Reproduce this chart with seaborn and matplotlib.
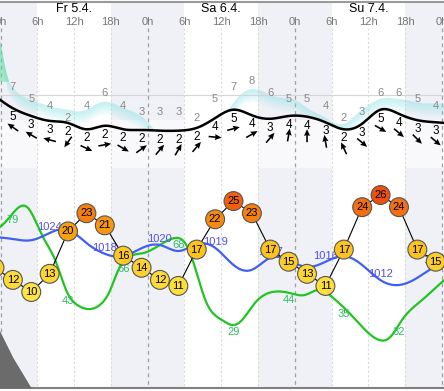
import numpy as np
import matplotlib
matplotlib.use("Agg")
import matplotlib.pyplot as plt
import seaborn as sns
from matplotlib.colors import LinearSegmentedColormap, Normalize

sns.set_theme(style="white")
plt.rcParams['font.family'] = ['Liberation Sans', 'DejaVu Sans']

W, H = 444, 391

# ---- data (hours since Fr 5.4. 0h) ----
day_labels = ["Fr 5.4.", "Sa 6.4.", "Su 7.4."]
day_centers = [12, 36, 60]
tick_hours = list(range(0, 73, 6))
tick_labels = ["0h", "6h", "12h", "18h"] * 3 + ["0h"]
night_starts = [-6, 18, 42, 66]

steps = list(range(-1, 72, 3))
temp = [14, 12, 10, 13, 20, 23, 21, 16, 14, 12, 11, 17, 22, 25, 23, 17, 15, 13, 11, 17, 24, 26, 24, 17, 15]

label_steps = steps[1:]
wind_bft = [5, 3, 3, 2, 2, 2, 2, 2, 2, 2, 2, 4, 5, 4, 3, 4, 4, 3, 2, 3, 5, 4, 3, 3]
gusts = [7, 5, 4, 2, 4, 6, 4, 3, 3, 3, 2, 5, 7, 8, 6, 5, 5, 4, 2, 3, 6, 6, 5, 4]
wind_from = [125, 120, 105, 35, 295, 260, 300, 235, 220, 210, 220, 275,
             255, 240, 220, 190, 180, 170, 155, 310, 300, 310, 315, 310]

curve_hours = list(range(-1, 75, 3))
wind_curve = [6.9, 5.1, 4.0, 3.3, 3.0, 2.1, 2.6, 2.1, 2.0, 1.9, 1.9, 2.3, 3.7,
              4.9, 4.1, 3.6, 4.0, 3.9, 3.1, 2.1, 2.9, 4.9, 4.3, 3.4, 3.1, 2.9]
pressure = [1023.0, 1022.5, 1022.2, 1024.0, 1024.8, 1021.5, 1018.8, 1018.2, 1020.2,
            1021.0, 1019.5, 1021.2, 1020.3, 1016.0, 1014.8, 1017.8, 1017.2, 1015.5,
            1016.8, 1018.2, 1016.0, 1012.2, 1011.0, 1012.8, 1015.8, 1017.8]

pres_label_hours = [-1, 8, 17, 26, 35, 44, 53, 62, 71]
pres_labels = [1022, 1024, 1018, 1020, 1019, 1017, 1016, 1012, 1015]

hum_hours = [-1.1, 1.1, 4.3, 6.9, 8.9, 10.9, 12.5, 14.3, 16.2, 17.9, 19.0, 20.0, 23.3,
             26.0, 28.5, 30.1, 31.7, 33.4, 36.1, 38.1, 39.4, 41.5, 44.3, 47.1, 49.7,
             52.0, 54.1, 56.9, 59.5, 61.8, 63.4, 65.5, 68.8, 72.4, 74.1]
humidity = [71.6, 77.1, 83.0, 69.3, 58.7, 43.6, 38.1, 36.2, 38.1, 45.0, 52.8, 57.8, 61.9,
            65.6, 68.8, 66.5, 55.5, 40.4, 31.2, 28.9, 31.2, 39.0, 44.0, 43.6, 42.7,
            45.0, 41.7, 34.4, 26.6, 22.0, 22.9, 31.2, 40.4, 49.5, 53.2]
hum_label_hours = [2, 11, 20, 29, 38, 47, 56, 65]
hum_labels = [79, 43, 66, 68, 29, 44, 35, 32]

gust_area_hours = [-1, 0, 1, 2, 3, 5, 8, 11, 14, 16, 17.5, 20, 23, 26, 32, 35, 37, 39, 41,
                   43, 45, 48, 50, 53, 56, 58, 60, 62, 64, 66, 69, 72, 74]
gust_area = [18, 13.9, 9.0, 6.9, 5.9, 4.9, 3.9, 3.3, 3.3, 4.4, 4.6, 3.6, 2.2, -0.8, -0.8,
             1.5, 3.2, 5.6, 6.7, 6.2, 5.4, 4.9, 3.6, 2.0, 1.0, 2.5, 4.0, 5.1, 5.2, 4.9,
             4.4, 4.3, 4.1]
gust_ref = 5.74

cloud_hours = [-1, 2, 5]
cloud = [31, 14, 0]


def smooth(xs, ys, xx):
    # natural cubic spline, only to draw the curves smoothly
    xs = np.asarray(xs, float)
    ys = np.asarray(ys, float)
    h = np.diff(xs)
    m = len(xs)
    A = np.zeros((m, m))
    b = np.zeros(m)
    A[0, 0] = A[-1, -1] = 1
    for i in range(1, m - 1):
        A[i, i - 1] = h[i - 1]
        A[i, i] = 2 * (h[i - 1] + h[i])
        A[i, i + 1] = h[i]
        b[i] = 3 * ((ys[i + 1] - ys[i]) / h[i] - (ys[i] - ys[i - 1]) / h[i - 1])
    c = np.linalg.solve(A, b)
    bb = (ys[1:] - ys[:-1]) / h - h * (2 * c[:-1] + c[1:]) / 3
    d = (c[1:] - c[:-1]) / (3 * h)
    idx = np.clip(np.searchsorted(xs, xx) - 1, 0, m - 2)
    t = xx - xs[idx]
    return ys[idx] + bb[idx] * t + c[idx] * t ** 2 + d[idx] * t ** 3


def rect(top, bottom):
    return [0, 1 - bottom / H, 1, (bottom - top) / H]


XLIM = (-0.1, 72.35)
xx = np.linspace(-1, 74, 900)
fig = plt.figure(figsize=(W / 100, H / 100), dpi=100)

# ---- background: night bands, grid, header ----
bg = fig.add_axes(rect(1.5, 388))
bg.set_xlim(XLIM)
bg.set_ylim(388, 1.5)
bg.set_facecolor('white')
for s in night_starts:
    bg.fill_between([s, s + 12], 1.5, 120, color='#f0f0f7', lw=0)
    bg.fill_between([s, s + 12], 120, 168, color='#f9f9fc', lw=0)
    bg.fill_between([s, s + 12], 168, 388, color='#f0f0f7', lw=0)
for hh, lab in zip(tick_hours, tick_labels):
    if hh % 24 == 0:
        bg.plot([hh, hh], [28, 388], color='#a0a0a0', ls=(0, (3, 3)), lw=0.9)
    else:
        bg.plot([hh, hh], [28, 388], color='#dadada', ls=(0, (2, 2)), lw=0.8)
    bg.text(hh, 22, lab, ha='center', va='center', fontsize=8, color='#777777')
for c, lab in zip(day_centers, day_labels):
    bg.text(c, 9, lab, ha='center', va='center', fontsize=9, color='black')
bg.set_xticks([])
bg.set_yticks([])
for sp in ['left', 'right']:
    bg.spines[sp].set_visible(False)
bg.spines['top'].set_color('#999999')
bg.spines['top'].set_linewidth(1.5)
bg.spines['bottom'].set_color('#808080')
bg.spines['bottom'].set_linewidth(1.5)

# ---- top panel: gusts and wind ----
ax_top = fig.add_axes(rect(3, 168))
ax_top.set_xlim(XLIM)
ax_top.set_ylim(-6.23, 20.82)
ax_top.axis('off')
wy = smooth(curve_hours, wind_curve, xx)
wind_in_gust_units = (7 * wy - 14) / 6.1   # same pixel height on the gust scale
gy = smooth(gust_area_hours, gust_area, xx)
above = gy > wind_in_gust_units
for k in range(1, 7):
    low = np.maximum(gy - k * 0.35, wind_in_gust_units)
    ax_top.fill_between(xx, low, gy, where=above, color='#86e4e6', alpha=0.09, lw=0)
ax_top.fill_between(xx, 8, gy, where=gy > 8, color='#45dc8c', alpha=0.45, lw=0)
ax_top.axhline(gust_ref, color='#d5d5d5', lw=0.8)
for hh, g in zip(label_steps, gusts):
    ax_top.text(hh, g, str(g), ha='center', va='center', fontsize=8, color='#888888')

ax_wind = fig.add_axes(rect(3, 168))
ax_wind.set_xlim(XLIM)
ax_wind.set_ylim(-3.43, 20.14)
ax_wind.axis('off')
sns.lineplot(x=xx, y=wy, ax=ax_wind, color='black', lw=1.8, sort=False, estimator=None)
wy_at = np.interp(label_steps, xx, wy)
for hh, v, b in zip(label_steps, wy_at, wind_bft):
    ax_wind.annotate(str(b), (hh, v), xytext=(0, -9), textcoords='offset pixels',
                     ha='center', va='center', fontsize=8.5, color='black')
theta = np.radians(270 - np.array(wind_from))
ax_wind.quiver(label_steps, wy_at - 19 / 7.0, np.cos(theta), np.sin(theta),
               pivot='middle', angles='uv', units='dots', scale_units='dots',
               scale=1 / 13.0, width=1.6, headwidth=3.8, headlength=4.2,
               headaxislength=3.8, color='black')

# ---- bottom panel: humidity, pressure, temperature ----
ax_hum = fig.add_axes(rect(168, 388))
ax_hum.set_xlim(XLIM)
ax_hum.set_ylim(0, 100.9)
ax_hum.axis('off')
ax_hum.fill_between(cloud_hours, 0, cloud, color='#6b6b6b', lw=0)
hx = np.linspace(hum_hours[0], hum_hours[-1], 900)
hy = smooth(hum_hours, humidity, hx)
sns.lineplot(x=hx, y=hy, ax=ax_hum, color='#22c422', lw=1.6, sort=False, estimator=None)
for hh, lab in zip(hum_label_hours, hum_labels):
    ax_hum.annotate(str(lab), (hh, np.interp(hh, hx, hy)), xytext=(0, -2),
                    textcoords='offset pixels', ha='center', va='top',
                    fontsize=8, color='#2cc060')

ax_pres = fig.add_axes(rect(168, 388))
ax_pres.set_xlim(XLIM)
ax_pres.set_ylim(985.25, 1040.25)
ax_pres.axis('off')
py_ = smooth(curve_hours, pressure, xx)
sns.lineplot(x=xx, y=py_, ax=ax_pres, color='#4060f0', lw=1.6, sort=False, estimator=None)
for hh, lab in zip(pres_label_hours, pres_labels):
    ax_pres.annotate(str(lab), (hh, np.interp(hh, xx, py_)), xytext=(0, 1),
                     textcoords='offset pixels', ha='center', va='bottom',
                     fontsize=8, color='#5050f0')

ax_temp = fig.add_axes(rect(168, 388))
ax_temp.set_xlim(XLIM)
ax_temp.set_ylim(-5.84, 30.46)
ax_temp.axis('off')
cmap = LinearSegmentedColormap.from_list('temp', [(0.0, '#fde43f'), (0.4375, '#fcc31f'),
                                                  (0.625, '#f9a10f'), (0.8125, '#f5800f'),
                                                  (1.0, '#f0500e')])
norm = Normalize(10, 26)
ax_temp.plot(steps, temp, color='black', lw=0.8, zorder=2)
ax_temp.scatter(steps, temp, s=185, c=cmap(norm(np.array(temp))), edgecolors='#555555',
                linewidths=0.8, zorder=3)
for hh, t in zip(steps, temp):
    ax_temp.text(hh, t, str(t), ha='center', va='center', fontsize=8, color='black', zorder=4)

fig.savefig('out.png', dpi=100)
